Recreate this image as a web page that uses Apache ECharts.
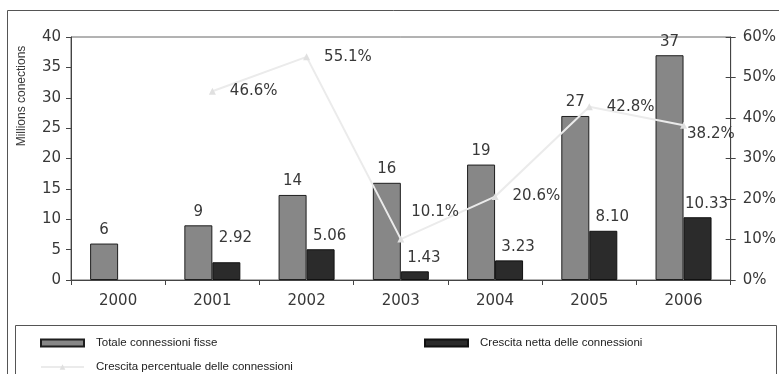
<!DOCTYPE html>
<html>
<head>
<meta charset="utf-8">
<script src="https://cdn.jsdelivr.net/npm/echarts@6/dist/echarts.min.js"></script>
<style>
  html, body { margin: 0; padding: 0; background: #fff; }
  #chart { width: 779px; height: 374px; }
</style>
</head>
<body>
<div id="chart"></div>
<script>
// Fixed-line connections in Italy, 2000-2006
const years = ['2000', '2001', '2002', '2003', '2004', '2005', '2006'];
const totalConnections = [6, 9, 14, 16, 19, 27, 37];              // millions
const netGrowth = [null, 2.92, 5.06, 1.43, 3.23, 8.10, 10.33];      // millions
const pctGrowth = [null, 46.6, 55.1, 10.1, 20.6, 42.8, 38.2];        // percent
const leftTicks = { min: 0, max: 40, interval: 5 };
const rightTicks = { min: 0, max: 60, interval: 10 };

const NAME_TOTAL = 'Totale connessioni fisse';
const NAME_NET = 'Crescita netta delle connessioni';
const NAME_PCT = 'Crescita percentuale delle connessioni';

const FONT = 'DejaVu Sans';
const TEXT = '#383838';

// label nudges for crowded spots
const netLabelShift = { 1: [9, -11] };
const pctLabelShift = { 3: [-7, -27], 6: [-14, 9] };

const chart = echarts.init(document.getElementById('chart'));

const netData = netGrowth.map((v, i) => ({
  value: v,
  label: { offset: netLabelShift[i] || [9, 0] }
}));
const pctData = pctGrowth.map((v, i) => ({
  value: v,
  label: { offset: pctLabelShift[i] || [0, 0] }
}));

const legendBase = {
  orient: 'horizontal',
  itemWidth: 43,
  itemHeight: 7,
  textStyle: { fontFamily: 'Liberation Sans', fontSize: 11.5, color: '#222', padding: [0, 0, 0, 7] }
};

chart.setOption({
  animation: false,
  backgroundColor: '#fff',
  grid: {
    left: 71, right: 47, top: 37, bottom: 94,
    show: true, borderColor: '#666', borderWidth: 1, backgroundColor: 'transparent'
  },
  graphic: [
    { type: 'rect', shape: { x: 7.5, y: 10.5, width: 800, height: 400 },
      style: { fill: 'none', stroke: '#555', lineWidth: 1 }, silent: true },
    { type: 'rect', shape: { x: 15.5, y: 325.5, width: 761, height: 100 },
      style: { fill: 'none', stroke: '#555', lineWidth: 1 }, silent: true },
    { type: 'text', x: 22, y: 96, rotation: Math.PI / 2,
      style: { text: 'Millions conections', fontFamily: 'Liberation Sans', fontSize: 12,
               fill: TEXT, textAlign: 'center', textVerticalAlign: 'middle' } }
  ],
  legend: [
    Object.assign({ left: 35, top: 332, data: [{ name: NAME_TOTAL, icon: 'rect' }] }, legendBase),
    Object.assign({ left: 419, top: 332, data: [{ name: NAME_NET, icon: 'rect' }] }, legendBase),
    Object.assign({ left: 35, top: 356, data: [NAME_PCT] }, legendBase)
  ],
  xAxis: {
    type: 'category',
    data: years,
    axisLine: { lineStyle: { color: '#444', width: 1 } },
    axisTick: { show: true, length: 5, lineStyle: { color: '#444' } },
    axisLabel: { margin: 14, fontFamily: FONT, fontSize: 15, color: TEXT }
  },
  yAxis: [
    {
      type: 'value', position: 'left',
      min: leftTicks.min, max: leftTicks.max, interval: leftTicks.interval,
      axisLine: { show: true, lineStyle: { color: '#444' } },
      axisTick: { show: true, length: 5, lineStyle: { color: '#444' } },
      axisLabel: { margin: 10, fontFamily: FONT, fontSize: 15, color: TEXT },
      splitLine: { show: false }
    },
    {
      type: 'value', position: 'right',
      min: rightTicks.min, max: rightTicks.max, interval: rightTicks.interval,
      axisLine: { show: true, lineStyle: { color: '#444' } },
      axisTick: { show: true, length: 5, lineStyle: { color: '#444' } },
      axisLabel: { margin: 12, fontFamily: FONT, fontSize: 15, color: TEXT, formatter: '{value}%' },
      splitLine: { show: false }
    },
    {
      // inner half of the right-hand ticks
      type: 'value', position: 'right',
      min: rightTicks.min, max: rightTicks.max, interval: rightTicks.interval,
      axisLine: { show: false },
      axisTick: { show: true, inside: true, length: 5, lineStyle: { color: '#444' } },
      axisLabel: { show: false },
      splitLine: { show: false }
    }
  ],
  series: [
    {
      name: NAME_TOTAL, type: 'bar', yAxisIndex: 0,
      data: totalConnections,
      barWidth: 28, barGap: '0%',
      itemStyle: { color: '#878787', borderColor: '#1e1e1e', borderWidth: 1 },
      label: { show: true, position: 'top', distance: 6, fontFamily: FONT, fontSize: 15, color: TEXT }
    },
    {
      name: NAME_NET, type: 'bar', yAxisIndex: 0,
      data: netData,
      barWidth: 28, barGap: '0%',
      itemStyle: { color: '#2b2b2b', borderColor: '#111', borderWidth: 1 },
      label: { show: true, position: 'top', distance: 6, fontFamily: FONT, fontSize: 15, color: TEXT,
               formatter: p => p.value.toFixed(2) }
    },
    {
      name: NAME_PCT, type: 'line', yAxisIndex: 1,
      data: pctData,
      z: 5,
      lineStyle: { color: '#ebebeb', width: 2 },
      itemStyle: { color: '#e0e0e0' },
      symbol: 'triangle', symbolSize: 7,
      label: { show: true, position: 'right', distance: 14, fontFamily: FONT, fontSize: 15, color: TEXT,
               formatter: p => p.value.toFixed(1) + '%' }
    }
  ]
});
</script>
</body>
</html>
